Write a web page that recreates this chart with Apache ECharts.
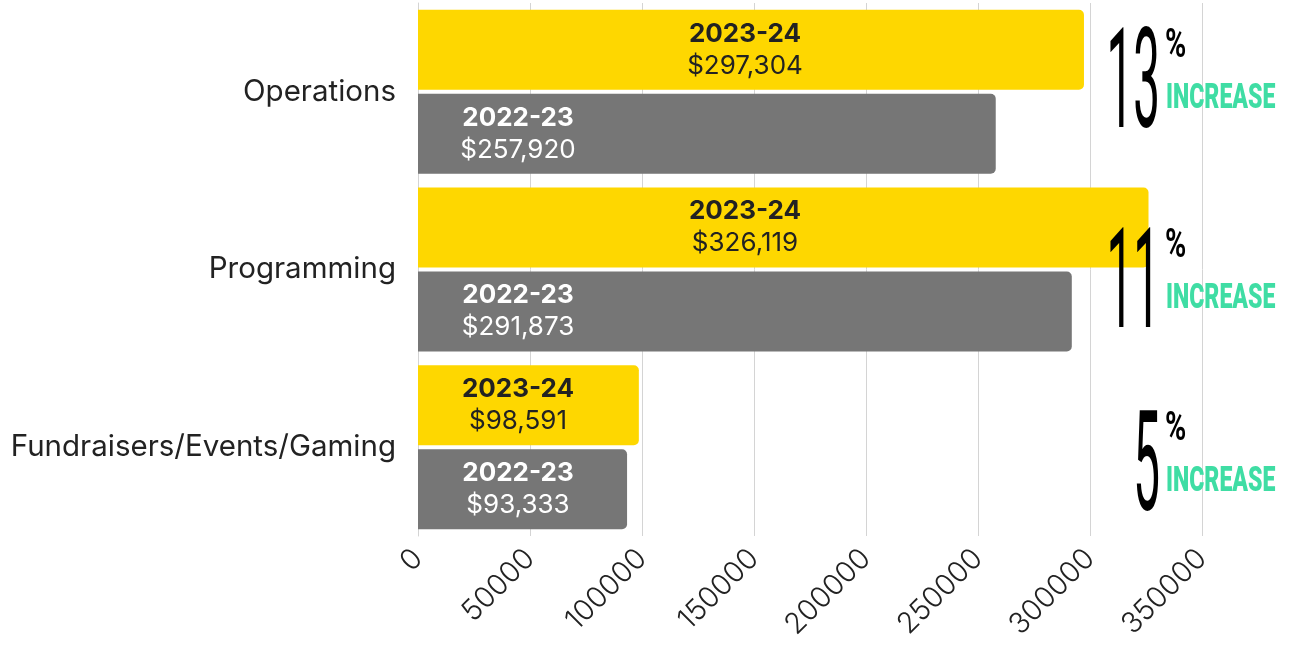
<!DOCTYPE html>
<html>
<head>
<meta charset="utf-8">
<script src="https://cdn.jsdelivr.net/npm/echarts@6/dist/echarts.min.js"></script>
<style>
  html, body { margin: 0; padding: 0; background: #fff; }
  #main { width: 1290px; height: 646px; }
</style>
</head>
<body>
<div id="main"></div>
<script>
// categories top to bottom
const categories = ['Operations', 'Programming', 'Fundraisers/Events/Gaming']
const currentYear = [297304, 326119, 98591]   // 2023-24
const previousYear = [257920, 291873, 93333]  // 2022-23
const increasePct = ['13', '11', '5']
const xTicks = [0, 50000, 100000, 150000, 200000, 250000, 300000, 350000]

const FONT = 'Inter, "Noto Sans", sans-serif'

function money(v) {
  return '$' + v.toLocaleString('en-US')
}

// label sits near the start of the bar, yellow ones further in when the bar is long
function makeData(values, name, isCurrent) {
  return values.map(v => ({
    value: v,
    label: {
      position: [isCurrent && v > 200000 ? 327 : 100, '50%'],
      formatter: '{y|' + name + '}\n{v|' + money(v) + '}'
    }
  }))
}

const myChart = echarts.init(document.getElementById('main'))

const labelBase = (color) => ({
  show: true,
  align: 'center',
  verticalAlign: 'middle',
  rich: {
    y: { fontFamily: FONT, fontWeight: 'bold', fontSize: 26, color: color, lineHeight: 32 },
    v: { fontFamily: FONT, fontSize: 26, color: color, lineHeight: 32 }
  }
})

const option = {
  animation: false,
  grid: { left: 418, right: 88, top: 3, bottom: 110, containLabel: false },
  xAxis: {
    type: 'value',
    min: xTicks[0],
    max: xTicks[xTicks.length - 1],
    interval: xTicks[1] - xTicks[0],
    axisLine: { show: false },
    axisTick: { show: false },
    splitLine: { show: true, lineStyle: { color: '#d4d4d4', width: 1 } },
    axisLabel: {
      rotate: 45,
      margin: 18,
      fontFamily: FONT,
      fontWeight: 300,
      fontSize: 29,
      color: '#222',
      formatter: v => String(v)
    }
  },
  yAxis: {
    type: 'category',
    inverse: true,
    data: categories,
    axisLine: { show: true, lineStyle: { color: '#d4d4d4' } },
    axisTick: { show: false },
    axisLabel: {
      margin: 22,
      fontFamily: FONT,
      fontSize: 29.5,
      color: '#222'
    }
  },
  series: [
    {
      name: '2023-24',
      type: 'bar',
      barWidth: 80,
      barGap: '5%',
      data: makeData(currentYear, '2023-24', true),
      itemStyle: { color: '#FED700', borderRadius: [0, 5, 5, 0] },
      label: labelBase('#222')
    },
    {
      name: '2022-23',
      type: 'bar',
      barWidth: 80,
      data: makeData(previousYear, '2022-23', false),
      itemStyle: { color: '#767676', borderRadius: [0, 5, 5, 0] },
      label: labelBase('#fff')
    }
  ]
}
myChart.setOption(option)

// percentage call-outs on the right
const calloutTops = [30, 230, 413]
const graphics = []
increasePct.forEach((p, i) => {
  const top = calloutTops[i]
  graphics.push({
    type: 'text',
    x: 1160, y: top - 8,
    scaleX: 0.34,
    z: 100,
    style: {
      text: p,
      fontFamily: 'Roboto, sans-serif',
      fontWeight: 400,
      fontSize: 140,
      fill: '#000',
      textAlign: 'right',
      textVerticalAlign: 'top'
    }
  })
  graphics.push({
    type: 'text',
    x: 1165, y: top - 3,
    scaleX: 0.72,
    z: 100,
    style: {
      text: '%',
      fontFamily: 'Roboto, sans-serif',
      fontWeight: 'bold',
      fontSize: 40,
      fill: '#000',
      textVerticalAlign: 'top'
    }
  })
  graphics.push({
    type: 'text',
    x: 1166, y: top + 52,
    scaleX: 0.66,
    z: 100,
    style: {
      text: 'INCREASE',
      fontFamily: 'Roboto, sans-serif',
      fontWeight: 900,
      fontSize: 35,
      fill: '#3FDDA4',
      textVerticalAlign: 'top'
    }
  })
})
myChart.setOption({ graphic: graphics })
</script>
</body>
</html>
